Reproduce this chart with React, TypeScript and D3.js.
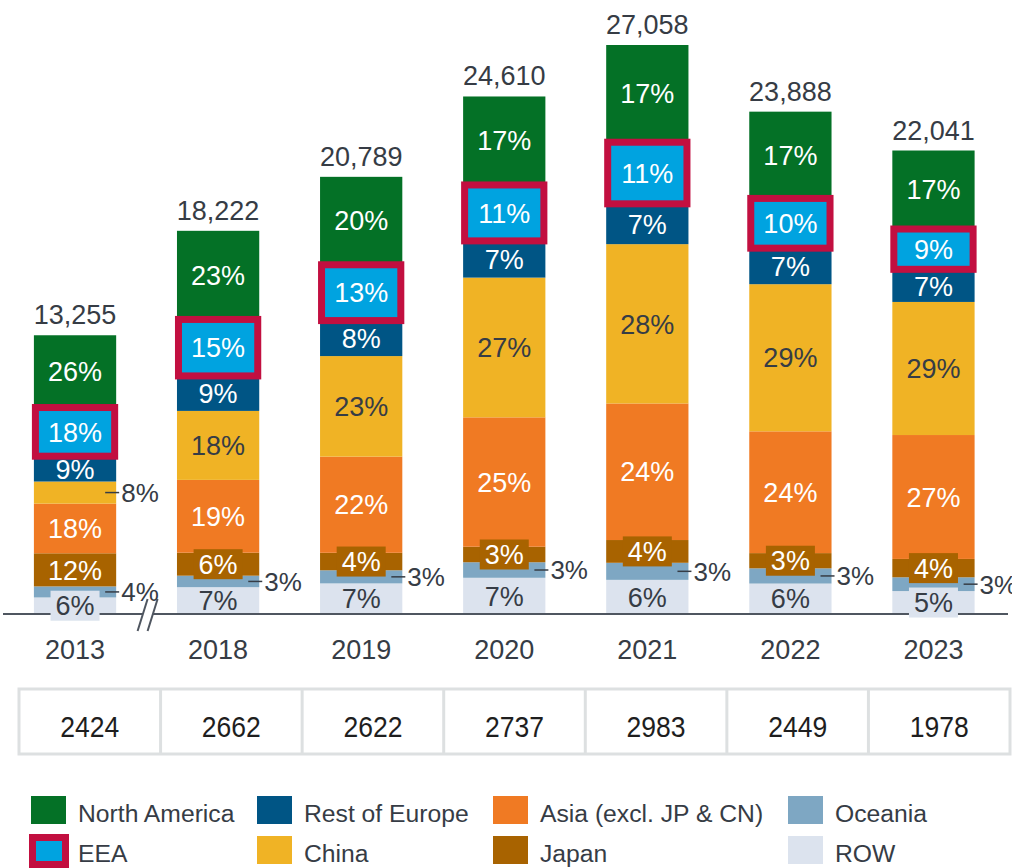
import * as d3 from "d3";

// chart data (bottom of stack -> top)
const years = ["2013", "2018", "2019", "2020", "2021", "2022", "2023"];
const totals = [13255, 18222, 20789, 24610, 27058, 23888, 22041];
const tableValues = [2424, 2662, 2622, 2737, 2983, 2449, 1978];

const row = [6, 7, 7, 7, 6, 6, 5];
const oceania = [4, 3, 3, 3, 3, 3, 3];
const japan = [12, 6, 4, 3, 4, 3, 4];
const asia = [18, 19, 22, 25, 24, 24, 27];
const china = [8, 18, 23, 27, 28, 29, 29];
const restOfEurope = [9, 9, 8, 7, 7, 7, 7];
const eea = [18, 15, 13, 11, 11, 10, 9];
const northAmerica = [26, 23, 20, 17, 17, 17, 17];

const regions = ["ROW", "Oceania", "Japan", "Asia (excl. JP & CN)", "China", "Rest of Europe", "EEA", "North America"];
const series = [row, oceania, japan, asia, china, restOfEurope, eea, northAmerica];

// labels drawn beside the bar
const outsideLabels = [
  ["2013", "China"], ["2013", "Oceania"], ["2018", "Oceania"], ["2019", "Oceania"],
  ["2020", "Oceania"], ["2021", "Oceania"], ["2022", "Oceania"], ["2023", "Oceania"],
];

const legendRow1 = ["North America", "Rest of Europe", "Asia (excl. JP & CN)", "Oceania"];
const legendRow2 = ["EEA", "China", "Japan", "ROW"];

const colors = {
  "ROW": "#dce3ee",
  "Oceania": "#7ea7c3",
  "Japan": "#a86300",
  "Asia (excl. JP & CN)": "#f07a23",
  "China": "#f0b325",
  "Rest of Europe": "#005585",
  "EEA": "#00a3e0",
  "North America": "#047126",
};
const darkText = new Set(["ROW", "Oceania", "China"]);
const crimson = "#c20f40";
const textGray = "#363c45";
const font = "'Liberation Sans', Arial, sans-serif";

const W = 1012, H = 868;
const baseY = 614;

export default function App() {
  const x = d3.scalePoint().domain(years).range([3.5, 1005]).padding(0.5);
  const barW = x.step() * 0.575;
  const y = d3.scaleLinear().domain([0, d3.max(totals)!]).range([baseY, 45]);
  const cell = d3.scaleBand().domain(years).range([19, 1010]);

  const stacks = years.map((yr, i) => {
    const sum = d3.sum(series, (s) => s[i]);
    let acc = 0;
    return regions.map((r, k) => {
      const v = series[k][i];
      const y0 = acc;
      acc += (v / sum) * totals[i];
      return { yr, region: r, value: v, top: y(acc), bottom: y(y0) };
    });
  });

  const isOutside = (yr, r) => outsideLabels.some(([a, b]) => a === yr && b === r);

  const segs = stacks.flat();
  const labelW = (v) => (String(v).length * 0.556 + 0.889) * 27 + 10;

  return (
    <svg width={W} height={H} style={{ position: "absolute", left: 0, top: 0, background: "#fff" }} fontFamily={font}>
      {/* bars */}
      {segs.map((d, i) => (
        <rect key={i} x={x(d.yr)! - barW / 2} y={d.top} width={barW} height={d.bottom - d.top} fill={colors[d.region]} />
      ))}

      {/* axis */}
      <line x1={3} x2={1008} y1={baseY} y2={baseY} stroke="#4f5660" strokeWidth={2} />
      {(() => {
        const bx = (x("2013")! + x("2018")!) / 2;
        return (
          <g>
            <polygon points={`${bx - 9},631 ${bx + 1},600 ${bx + 11},600 ${bx + 1},631`} fill="#fff" />
            <line x1={bx - 9} y1={631} x2={bx + 1} y2={599} stroke="#4f5660" strokeWidth={2} />
            <line x1={bx + 1} y1={631} x2={bx + 11} y2={599} stroke="#4f5660" strokeWidth={2} />
          </g>
        );
      })()}

      {/* label backgrounds for thin segments */}
      {segs
        .filter((d) => !isOutside(d.yr, d.region) && d.bottom - d.top < 24)
        .map((d, i) => {
          const cy = (d.top + d.bottom) / 2;
          const w = labelW(d.value);
          return <rect key={i} x={x(d.yr)! - w / 2} y={cy - 15} width={w} height={30} fill={colors[d.region]} />;
        })}

      {/* EEA highlight */}
      {segs
        .filter((d) => d.region === "EEA")
        .map((d, i) => (
          <rect key={i} x={x(d.yr)! - barW / 2 + 1.5} y={d.top + 0.5} width={barW - 3} height={d.bottom - d.top - 1}
            fill="none" stroke={crimson} strokeWidth={7} />
        ))}

      {/* segment labels */}
      {segs.map((d, i) => {
        const cy = (d.top + d.bottom) / 2;
        if (isOutside(d.yr, d.region)) {
          const rx = x(d.yr)! + barW / 2;
          return (
            <g key={i}>
              <line x1={rx - 11} x2={rx + 3} y1={cy} y2={cy} stroke={textGray} strokeWidth={1.5} />
              <text x={rx + 5} y={cy} dy="0.36em" fontSize={26} fill={textGray}>{d.value}%</text>
            </g>
          );
        }
        return (
          <text key={i} x={x(d.yr)} y={cy} dy="0.36em" textAnchor="middle" fontSize={27}
            fill={darkText.has(d.region) ? textGray : "#fff"}>{d.value}%</text>
        );
      })}

      {/* totals */}
      {years.map((yr, i) => (
        <text key={yr} x={x(yr)} y={y(totals[i]) - 11} textAnchor="middle" fontSize={27} fill={textGray}>
          {d3.format(",")(totals[i])}
        </text>
      ))}

      {/* year labels */}
      {years.map((yr) => (
        <text key={yr} x={x(yr)} y={659} textAnchor="middle" fontSize={27} fill={textGray}>{yr}</text>
      ))}

      {/* table row */}
      <rect x={19} y={689} width={991} height={65} fill="#fff" stroke="#dde0e1" strokeWidth={3} />
      {years.slice(1).map((yr) => (
        <line key={yr} x1={cell(yr)} x2={cell(yr)} y1={689} y2={754} stroke="#dde0e1" strokeWidth={3} />
      ))}
      {years.map((yr, i) => (
        <text key={yr} x={cell(yr)! + cell.bandwidth() / 2} y={737} textAnchor="middle" fontSize={30}
          textLength={59} lengthAdjust="spacingAndGlyphs" fill="#1e1e1e">{tableValues[i]}</text>
      ))}

      {/* legend */}
      {[legendRow1, legendRow2].map((rowItems, ri) =>
        rowItems.map((name, ci) => {
          const lx = [31, 257, 493, 788][ci];
          const ly = 796 + ri * 40;
          return (
            <g key={name}>
              {name === "EEA" ? (
                <rect x={lx + 1.5} y={ly + 1.5} width={33} height={27} fill={colors[name]} stroke={crimson} strokeWidth={7} />
              ) : (
                <rect x={lx} y={ly} width={35} height={28} fill={colors[name]} />
              )}
              <text x={lx + 47} y={ly + 26} fontSize={24.7} fill={textGray}>{name}</text>
            </g>
          );
        })
      )}
    </svg>
  );
}
